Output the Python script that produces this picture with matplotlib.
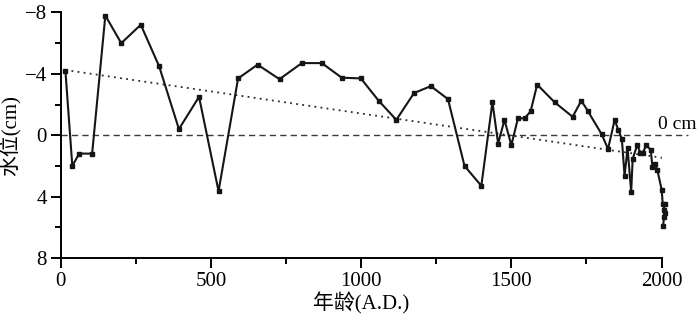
import matplotlib
matplotlib.use("Agg")
import matplotlib.pyplot as plt
from matplotlib.ticker import MultipleLocator

# water level record (cm), negative = higher level
years = [15, 38, 61, 104, 148, 201, 266, 327, 393, 460, 525, 590, 655, 728,
         802, 869, 935, 999, 1058, 1117, 1176, 1232, 1289, 1344, 1400, 1437,
         1456, 1477, 1500, 1522, 1544, 1564, 1586, 1644, 1704, 1733, 1754,
         1801, 1822, 1844, 1856, 1868, 1877, 1887, 1899, 1904, 1919, 1930,
         1938, 1949, 1964, 1970, 1978, 1986, 2001, 2004, 2010, 2007, 2013,
         2009, 2005]
level = [-4.2, 2.0, 1.2, 1.2, -7.8, -6.0, -7.2, -4.5, -0.4, -2.5, 3.65, -3.7,
         -4.6, -3.65, -4.7, -4.7, -3.75, -3.7, -2.25, -1.0, -2.75, -3.2, -2.35,
         2.0, 3.3, -2.15, 0.55, -1.0, 0.65, -1.1, -1.1, -1.55, -3.3, -2.15,
         -1.2, -2.25, -1.6, -0.05, 0.9, -1.0, -0.35, 0.25, 2.65, 0.85, 3.7,
         1.55, 0.65, 1.15, 1.15, 0.65, 0.95, 2.1, 1.9, 2.25, 3.6, 4.5, 4.5,
         4.9, 5.1, 5.3, 5.95]

# linear trend end points
trend_x = [15, 2012]
trend_y = [-4.25, 1.5]

serif = ["Liberation Serif", "Noto Sans CJK SC"]

fig = plt.figure(figsize=(7, 3.2), dpi=100)
ax = fig.add_axes([0.087, 0.194, 0.858, 0.767])

ax.plot([0, 2087], [0, 0], linestyle=(0, (4.5, 3)), color="#3a3a3a",
        linewidth=1.0, clip_on=False, zorder=1)
ax.plot(trend_x, trend_y, linestyle=(0, (1, 2.4)), color="#2a2a2a",
        linewidth=1.3, zorder=1)
ax.plot(years, level, color="#151515", linewidth=1.5, marker="s",
        markersize=3.2, clip_on=False, zorder=3)

ax.text(1990, -0.15, "0 cm", fontsize=14, family=serif, ha="left",
        va="bottom")

ax.set_xlim(0, 2000)
ax.set_ylim(8, -8)
ax.xaxis.set_major_locator(MultipleLocator(500))
ax.xaxis.set_minor_locator(MultipleLocator(250))
ax.yaxis.set_minor_locator(MultipleLocator(2))
ax.set_yticks([-8, -4, 0, 4, 8])
ax.set_yticklabels(["\u22128", "\u22124", "0", "4", "8"])

for side in ["top", "right"]:
    ax.spines[side].set_visible(False)
for side in ["left", "bottom"]:
    ax.spines[side].set_linewidth(1.4)

ax.tick_params(which="major", direction="out", length=7, width=1.4,
               labelsize=15, pad=3)
ax.tick_params(which="minor", direction="out", length=4, width=1.4)
for lab in ax.get_xticklabels() + ax.get_yticklabels():
    lab.set_family(serif)

ax.set_xlabel("年龄(A.D.)", fontsize=15, family=serif, labelpad=1)
ax.set_ylabel("水位(cm)", fontsize=15, family=serif, labelpad=3)

fig.savefig("out.png", dpi=100)
